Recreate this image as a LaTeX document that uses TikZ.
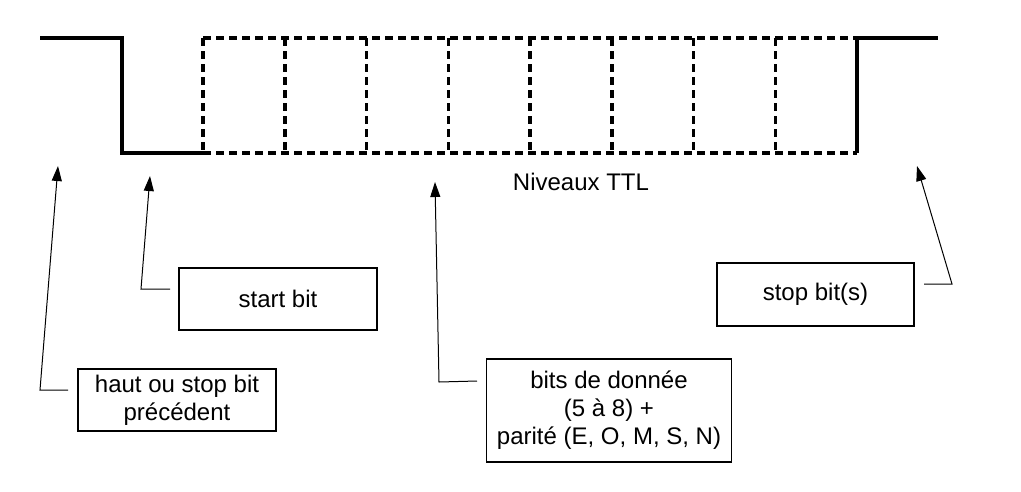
\documentclass[tikz,border=0pt]{standalone}
\usepackage{fontspec}
\setmainfont{Liberation Sans}
\usetikzlibrary{arrows.meta}
\begin{document}
\begin{tikzpicture}[x=1pt,y=-1pt,
  box/.style={draw, line width=1.3pt, align=center, inner sep=0pt,
    font=\fontsize{24}{28}\selectfont},
  conn/.style={line width=1pt, -{Triangle[length=15pt,width=10pt]}},
  sig/.style={line width=3.5pt, line join=miter},
  dsig/.style={line width=3.5pt, dash pattern=on 8pt off 5pt}]
\useasboundingbox (0,0) rectangle (1021,491);
% waveform
\draw[dsig] (203,38) -- (857,38);
\draw[dsig] (203,153) -- (857,153);
\foreach \k in {0,...,7}{
  \draw[dsig] (203+\k*81.75,38) -- (203+\k*81.75,153);
}
\draw[sig] (40,38) -- (122,38) -- (122,153) -- (203,153);
\draw[sig] (857,153) -- (857,38) -- (938,38);
\node[font=\fontsize{24}{28}\selectfont] (ttl) at (581,182) {Niveaux TTL};
% boxes
\node[box, minimum width=198pt, minimum height=62pt] (haut) at (177,400) {haut ou stop bit\\précédent};
\node[box, minimum width=198pt, minimum height=62pt] (start) at (278,299) {start bit};
\node[box, minimum width=245pt, minimum height=103pt] (data) at (609,410.5) {bits de donnée\\(5 à 8) +\\parité (E, O, M, S, N)};
\node[box, minimum width=197pt, minimum height=63pt] (stop) at (815.5,294.5) {stop bit(s)};
% connector coordinates
\coordinate (a1) at (68,390); \coordinate (b1) at (40,390); \coordinate (t1) at (58,166);
\coordinate (a2) at (170,289); \coordinate (b2) at (141,289); \coordinate (t2) at (150,176);
\coordinate (a3) at (477,381); \coordinate (b3) at (439,382); \coordinate (t3) at (435,182);
\coordinate (a4) at (924,284); \coordinate (b4) at (952,284); \coordinate (t4) at (917,166);
\draw[conn] (a1) -- (b1) -- (t1);
\draw[conn] (a2) -- (b2) -- (t2);
\draw[conn] (a3) -- (b3) -- (t3);
\draw[conn] (a4) -- (b4) -- (t4);
\end{tikzpicture}
\end{document}
